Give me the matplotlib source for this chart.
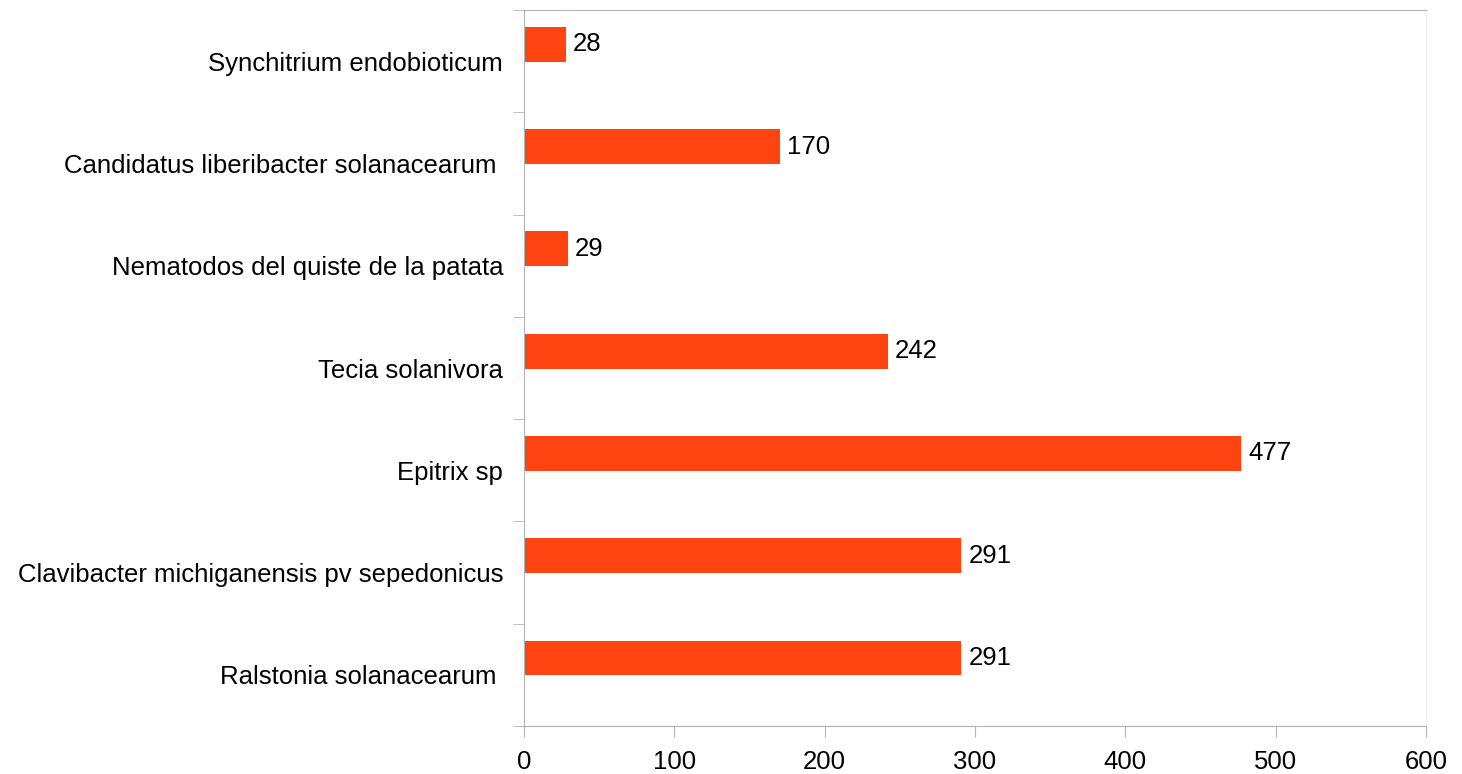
import matplotlib.pyplot as plt
import numpy as np

plt.rcParams['font.family'] = ['Liberation Sans', 'DejaVu Sans']

categorias = ["Ralstonia solanacearum ",
              "Clavibacter michiganensis pv sepedonicus",
              "Epitrix sp",
              "Tecia solanivora",
              "Nematodos del quiste de la patata",
              "Candidatus liberibacter solanacearum ",
              "Synchitrium endobioticum"]
valores = [291, 291, 477, 242, 29, 170, 28]
xticks = [0, 100, 200, 300, 400, 500, 600]

fig = plt.figure(figsize=(14.62, 7.74), dpi=100)
ax = fig.add_axes([524/1462, 48/774, 902/1462, 716/774])

y = np.arange(len(categorias))
# las barras van un poco desplazadas hacia arriba respecto a la etiqueta
barras = ax.barh(y + 0.165, valores, height=0.34, color="#ff4411")
ax.bar_label(barras, labels=[str(v) for v in valores], padding=5, fontsize=18.5)

ax.set_ylim(-0.5, len(categorias) - 0.5)
ax.set_xlim(0, 600)
ax.set_yticks(y)
ax.set_yticklabels(categorias)
ax.set_yticks(np.arange(-0.5, len(categorias)), minor=True)
ax.set_xticks(xticks)

ax.tick_params(axis='y', which='major', length=0, pad=15, labelsize=18.5)
ax.tick_params(axis='y', which='minor', length=8, color="#b3b3b3")
ax.tick_params(axis='x', length=8, color="#b3b3b3", pad=9, labelsize=18.5)

for lado in ['left', 'bottom', 'top']:
    ax.spines[lado].set_color("#b3b3b3")
ax.spines['right'].set_color("#eeeeee")

fig.savefig("out.png", dpi=100)
